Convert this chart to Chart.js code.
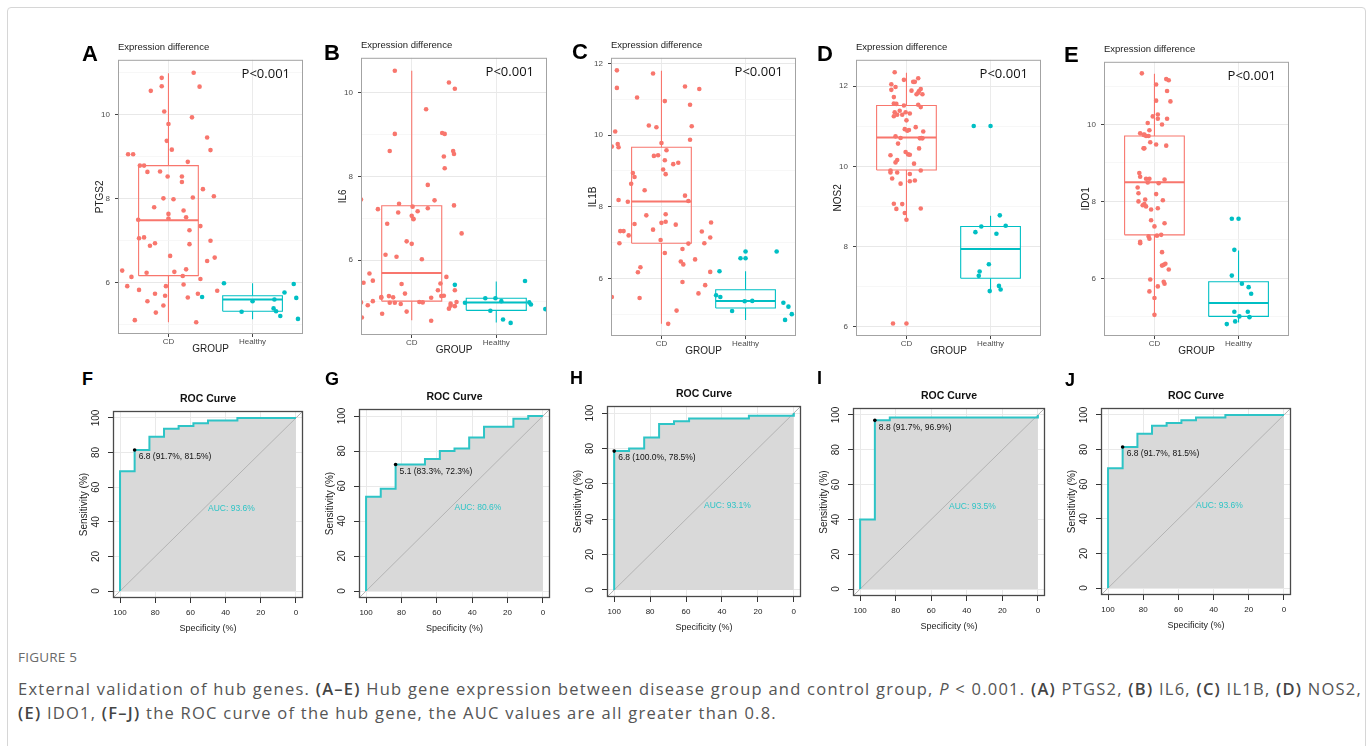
<!DOCTYPE html>
<html><head><meta charset="utf-8">
<title>Figure 5 - External validation of hub genes</title>
<style>
  body { margin: 0; width: 1372px; height: 746px; overflow: hidden; background: #fff;
         font-family: "Liberation Sans", Arial, sans-serif; }
  .card { position: absolute; left: 7px; top: 7px; width: 1357px; height: 780px;
          border: 1px solid #d6d6d6; border-radius: 4px; }
  .panel { position: absolute; }
  .letter { position: absolute; font-weight: bold; line-height: 1; transform: translateY(-50%); color: #000; }
  .title { position: absolute; line-height: 1.2; white-space: nowrap; color: #222; }
  .caption { position: absolute; left: 18px; white-space: nowrap; transform: translateY(-50%);
             font-family: "Open Sans", sans-serif; font-size: 16.5px; color: #555; }
  .caption b { font-weight: 600; color: #444; }
</style>
<script src="https://cdn.jsdelivr.net/npm/chart.js"></script>
</head>
<body>
<div class="card"></div>
<div class="caption" style="top:657px;font-size:13.5px;color:#6a6a6a;letter-spacing:0.2px">FIGURE 5</div>
<div class="caption" id="cap1" style="top:688px">External validation of hub genes. <b>(A–E)</b> Hub gene expression between disease group and control group, <i>P</i> &lt; 0.001. <b>(A)</b> PTGS2, <b>(B)</b> IL6, <b>(C)</b> IL1B, <b>(D)</b> NOS2,</div>
<div class="caption" id="cap2" style="top:712px"><b>(E)</b> IDO1, <b>(F–J)</b> the ROC curve of the hub gene, the AUC values are all greater than 0.8.</div>

<script>
// ---- data ----
const groups = ['CD', 'Healthy'];
const genes = ['PTGS2', 'IL6', 'IL1B', 'NOS2', 'IDO1'];
const pLabel = 'P<0.001';

// jittered points: x = jittered group position (CD = 1, Healthy = 2), y = expression
const ptgs2CdX = [0.92,1.30,0.92,1.37,0.79,0.95,1.28,1.00,1.46,0.98,1.04,1.50,0.52,0.58,1.23,0.66,0.71,0.75,0.90,1.16,0.99,1.16,1.41,1.54,0.94,1.06,1.29,0.83,1.18,1.00,1.00,1.21,0.64,1.38,1.25,0.65,0.71,1.50,0.84,0.78,1.25,1.02,1.55,1.46,0.45,1.21,0.74,1.07,1.17,0.56,1.38,0.51,0.97,1.18,0.65,0.84,1.58,1.35,0.96,1.23,0.75,0.94,0.85,0.60,1.33];
const ptgs2CdY = [10.87,10.99,10.67,10.66,10.56,10.07,9.93,9.77,9.45,9.37,9.16,9.15,9.05,9.05,8.87,8.78,8.78,8.63,8.64,8.52,8.52,8.39,8.22,8.05,8.00,7.98,8.02,7.79,7.71,7.63,7.52,7.55,7.49,7.34,7.24,7.05,7.07,6.99,6.93,6.87,6.91,6.63,6.59,6.51,6.28,6.31,6.23,6.25,6.15,6.13,6.08,5.91,5.91,5.95,5.82,5.73,5.80,5.73,5.68,5.64,5.55,5.45,5.28,5.10,5.05];
const ptgs2HealthyX = [1.66,1.40,1.87,2.00,2.26,2.25,2.28,2.33,2.38,2.49,2.52,2.54];
const ptgs2HealthyY = [5.98,5.65,5.30,5.55,5.59,5.38,5.31,5.20,5.76,5.96,5.63,5.13];

const il6CdX = [0.80,1.44,1.51,1.17,0.80,1.36,1.39,0.74,1.49,1.38,1.50,1.39,1.19,0.40,1.27,0.85,1.50,1.19,0.60,0.84,1.01,1.07,1.00,1.02,1.02,0.71,1.59,0.94,1.00,0.69,0.82,1.12,0.50,0.54,0.43,1.41,0.88,1.34,0.92,1.31,1.51,0.73,1.35,1.38,0.64,0.64,0.78,1.23,0.54,0.74,0.80,1.09,1.13,0.40,0.87,0.48,1.46,1.46,1.53,1.51,1.44,0.94,0.65,0.41,1.23];
const il6CdY = [10.53,10.25,10.10,9.61,9.02,9.04,9.02,8.61,8.61,8.48,8.54,8.20,7.80,7.45,7.43,7.35,7.31,7.24,7.22,7.14,7.28,7.17,7.06,6.99,6.98,6.87,6.64,6.45,6.39,6.13,6.08,6.02,5.68,5.51,5.46,5.60,5.43,5.44,5.20,5.28,5.28,5.14,5.14,5.15,5.12,5.10,5.11,5.10,5.02,4.98,4.98,5.00,4.99,4.99,4.95,4.92,4.96,4.91,5.00,4.90,4.84,4.77,4.72,4.63,4.55];
const il6HealthyX = [1.51,1.63,1.87,1.99,2.06,1.93,2.08,2.17,2.34,2.39,2.41,2.58];
const il6HealthyY = [5.41,4.98,5.09,5.09,5.02,4.79,4.58,4.50,5.50,4.99,4.94,4.83];

const il1bCdX = [0.47,0.90,0.47,1.28,1.45,0.71,1.04,1.34,0.45,0.85,0.94,1.36,0.41,0.48,0.49,1.00,1.34,1.06,0.91,0.96,1.04,1.14,1.20,1.02,0.66,0.68,1.05,0.64,0.80,0.49,0.60,1.28,1.32,1.05,0.82,1.00,1.05,0.68,1.17,1.59,0.51,0.55,0.90,1.48,0.61,1.58,0.50,0.99,1.32,1.51,1.25,1.04,1.40,1.23,1.26,0.75,0.72,1.58,1.25,1.52,1.44,0.41,0.74,1.18,1.08];
const il1bCdY = [11.81,11.72,11.32,11.36,11.29,11.05,10.95,10.85,10.10,10.27,10.22,10.25,9.68,9.75,9.66,9.78,9.87,9.58,9.42,9.44,9.30,9.19,9.23,9.04,8.94,8.83,8.91,8.64,8.46,8.19,8.14,8.31,8.16,7.79,7.76,7.55,7.58,7.52,7.50,7.56,7.32,7.32,7.36,7.31,7.20,7.14,6.98,7.07,6.97,6.98,6.82,6.71,6.53,6.47,6.39,6.31,6.17,6.18,5.90,5.81,5.58,5.48,5.45,5.10,4.73];
const il1bHealthyX = [1.69,1.65,1.70,1.84,1.94,2.00,2.00,1.99,2.08,2.37,2.45,2.51,2.55,2.47];
const il1bHealthyY = [6.20,5.53,5.48,5.09,6.56,6.75,6.56,5.36,5.37,6.75,5.32,5.21,5.00,4.84];

const nos2CdX = [0.86,1.14,0.97,1.08,1.10,0.82,0.87,1.17,1.06,1.15,1.14,1.19,1.12,0.85,0.85,0.88,0.97,1.14,1.17,0.92,0.99,0.86,1.04,0.89,0.95,0.85,1.00,1.11,0.98,1.03,1.01,1.20,0.87,0.93,1.18,1.16,1.19,0.90,0.99,1.02,1.04,0.81,0.89,0.87,1.09,1.15,0.81,0.81,0.89,1.17,1.04,0.83,1.10,1.04,0.93,0.85,0.95,1.17,0.88,0.98,1.00,0.84,1.00,0.82];
const nos2CdY = [12.35,12.20,12.16,12.11,12.11,12.05,11.98,11.93,11.89,11.88,11.84,11.80,11.80,11.73,11.57,11.56,11.52,11.54,11.48,11.39,11.35,11.35,11.32,11.29,11.29,11.25,11.15,10.98,10.93,10.91,10.89,10.87,10.75,10.71,10.71,10.70,10.70,10.57,10.36,10.30,10.29,10.28,10.16,10.10,10.07,10.45,9.90,9.85,9.85,9.90,9.81,9.70,9.65,9.63,9.57,9.07,9.06,8.95,8.94,8.84,8.67,6.08,6.08,11.91];
const nos2HealthyX = [1.80,2.00,2.11,1.89,2.18,1.82,2.07,1.98,1.87,1.86,2.10,1.99,2.12];
const nos2HealthyY = [11.01,11.01,8.78,8.50,8.52,8.36,8.32,7.56,7.38,7.27,7.02,6.89,6.93];

const ido1CdX = [0.85,1.14,1.17,1.02,1.15,1.02,1.19,1.04,0.98,1.04,1.15,1.09,0.92,0.94,0.83,0.88,0.90,0.93,0.87,0.95,1.02,1.14,0.87,0.88,0.82,0.83,0.94,1.12,1.05,0.80,0.92,0.81,1.02,0.81,0.89,0.88,0.86,0.90,1.10,1.04,0.96,0.96,1.12,1.00,1.08,0.93,1.03,0.94,0.83,0.83,1.09,1.11,1.13,1.09,1.17,0.95,1.11,1.12,1.04,0.94,1.00,1.00,0.90];
const ido1CdY = [11.33,11.18,11.15,11.04,10.87,10.62,10.60,10.26,10.21,10.15,10.15,10.00,10.04,9.85,9.77,9.74,9.70,9.70,9.73,9.54,9.48,9.45,9.38,9.38,8.74,8.64,8.59,8.57,8.47,8.36,8.49,8.21,8.19,8.00,8.05,7.93,7.90,7.87,8.03,7.82,7.79,7.51,7.43,7.35,7.13,7.09,7.11,7.03,6.95,6.91,6.68,6.35,6.38,6.33,6.23,5.97,5.91,5.86,5.79,5.66,5.49,5.05,8.59];
const ido1HealthyX = [1.92,2.00,1.95,1.92,2.04,2.12,2.15,1.95,2.11,2.01,2.13,1.96,1.86];
const ido1HealthyY = [7.55,7.55,6.74,6.07,5.86,5.77,5.60,5.13,5.13,5.01,4.99,4.88,4.81];

// box stats: [lower whisker, Q1, median, Q3, upper whisker]
const ptgs2BoxCd = [5.05, 6.16, 7.48, 8.78, 10.98];
const ptgs2BoxHealthy = [5.12, 5.31, 5.59, 5.68, 5.98];
const il6BoxCd = [4.56, 5.02, 5.69, 7.30, 10.53];
const il6BoxHealthy = [4.51, 4.80, 4.99, 5.09, 5.49];
const il1bBoxCd = [4.73, 6.98, 8.15, 9.66, 11.80];
const il1bBoxHealthy = [4.84, 5.17, 5.37, 5.68, 6.20];
const nos2BoxCd = [8.67, 9.91, 10.72, 11.52, 12.34];
const nos2BoxHealthy = [6.89, 7.21, 7.94, 8.50, 8.77];
const ido1BoxCd = [5.05, 7.13, 8.50, 9.70, 11.32];
const ido1BoxHealthy = [4.85, 5.01, 5.36, 5.91, 6.72];

// ROC curves (specificity %, sensitivity %)
const rocSpecF = [100,100,91.7,91.7,83.3,83.3,75,75,66.7,66.7,58.3,58.3,50,50,33.3,33.3,0];
const rocSensF = [0,69.2,69.2,81.5,81.5,89.2,89.2,93.8,93.8,95.4,95.4,96.9,96.9,98.5,98.5,100,100];
const rocSpecG = [100,100,91.7,91.7,83.3,83.3,66.7,66.7,58.3,58.3,50,50,41.7,41.7,33.3,33.3,16.7,16.7,8.3,8.3,0];
const rocSensG = [0,53.8,53.8,58.5,58.5,72.3,72.3,75.4,75.4,80,80,81.5,81.5,87.7,87.7,93.8,93.8,98.5,98.5,100,100];
const rocSpecH = [100,100,91.7,91.7,83.3,83.3,75,75,66.7,66.7,58.3,58.3,25,25,0,0];
const rocSensH = [0,78.5,78.5,80,80,86.2,86.2,93.8,93.8,95.4,95.4,96.9,96.9,98.5,98.5,100];
const rocSpecI = [100,100,91.7,91.7,83.3,83.3,0,0];
const rocSensI = [0,40,40,96.9,96.9,98.5,98.5,100];
const rocSpecJ = [100,100,91.7,91.7,83.3,83.3,75,75,66.7,66.7,58.3,58.3,50,50,33.3,33.3,0];
const rocSensJ = [0,69.2,69.2,81.5,81.5,89.2,89.2,93.8,93.8,95.4,95.4,96.9,96.9,98.5,98.5,100,100];
const rocCutoff = ['6.8', '5.1', '6.8', '8.8', '6.8'];
const rocCutSpec = [91.7, 83.3, 100.0, 91.7, 91.7];
const rocCutSens = [81.5, 72.3, 78.5, 96.9, 81.5];
const rocAuc = [93.6, 80.6, 93.1, 93.5, 93.6];
const rocTicks = [0, 20, 40, 60, 80, 100];

// ---- layout ----
const FONT = '"Liberation Sans", Arial, sans-serif';
const RED = '#F8766D', CYAN = '#00BFC4', ROC_COLOR = '#2EC4C6';
const BOX_HALF = 0.355;
const AX_LO = -4, AX_HI = 104;
const boxLetters = ['A', 'B', 'C', 'D', 'E'];
const rocLetters = ['F', 'G', 'H', 'I', 'J'];
// plot areas [left, top, right, bottom]
const boxAreas = [[118,56,303,334],[361,54,547,335],[611,54,796,336],[856,56,1041,336],[1104,58,1289,336]];
const boxYRange = [[4.77,11.30],[4.21,10.84],[4.39,12.16],[5.77,12.66],[4.50,11.63]];
const rocAreas = [[113,408,303,598],[359,406,550,598],[607,403,801,597],[853,405,1045,596],[1101,405,1291,595]];
const boxLetterPos = [[82,53.5],[324,53],[572,51.5],[817,53.5],[1064,54.5]];
const rocLetterPos = [[82,378.5],[325,378.5],[570,377.5],[817,378],[1065,379.5]];

const boxSeries = [
  [ptgs2CdX, ptgs2CdY, ptgs2HealthyX, ptgs2HealthyY, ptgs2BoxCd, ptgs2BoxHealthy],
  [il6CdX, il6CdY, il6HealthyX, il6HealthyY, il6BoxCd, il6BoxHealthy],
  [il1bCdX, il1bCdY, il1bHealthyX, il1bHealthyY, il1bBoxCd, il1bBoxHealthy],
  [nos2CdX, nos2CdY, nos2HealthyX, nos2HealthyY, nos2BoxCd, nos2BoxHealthy],
  [ido1CdX, ido1CdY, ido1HealthyX, ido1HealthyY, ido1BoxCd, ido1BoxHealthy]
];
const rocSeries = [[rocSpecF, rocSensF],[rocSpecG, rocSensG],[rocSpecH, rocSensH],[rocSpecI, rocSensI],[rocSpecJ, rocSensJ]];

Chart.defaults.font.family = FONT;
Chart.defaults.animation = false;

const zip = (xs, ys) => xs.map((x, i) => ({ x: x, y: ys[i] }));

function addDiv(cls, left, top, html, style) {
  const d = document.createElement('div');
  d.className = cls;
  d.style.left = left + 'px';
  d.style.top = top + 'px';
  Object.assign(d.style, style || {});
  d.innerHTML = html;
  document.body.appendChild(d);
  return d;
}

function addCanvas(left, top, w, h) {
  const d = addDiv('panel', left, top, '', { width: w + 'px', height: h + 'px' });
  const c = document.createElement('canvas');
  d.appendChild(c);
  return c;
}

// frame + annotations drawn with the chart's own scales
const panelText = {
  id: 'panelText',
  afterDatasetsDraw(chart, args, o) {
    const { ctx, chartArea: a, scales: { x, y } } = chart;
    ctx.save();
    ctx.strokeStyle = o.frameColor;
    ctx.lineWidth = o.frameWidth;
    ctx.strokeRect(a.left + 0.5, a.top + 0.5, a.right - a.left - 1, a.bottom - a.top - 1);
    if (o.pValue) {
      ctx.font = '13px "Open Sans", sans-serif';
      ctx.fillStyle = '#111';
      ctx.textAlign = 'right';
      ctx.textBaseline = 'middle';
      ctx.fillText(o.pValue, a.right - 13, a.top + 14);
    }
    if (o.roc) {
      const r = o.roc;
      ctx.font = '8.5px ' + FONT;
      ctx.fillStyle = '#111';
      ctx.textAlign = 'left';
      ctx.textBaseline = 'middle';
      ctx.fillText(r.cutLabel, x.getPixelForValue(r.spec) + 4, y.getPixelForValue(r.sens) + 7);
      ctx.fillStyle = ROC_COLOR;
      ctx.textBaseline = 'top';
      ctx.fillText(r.aucLabel, x.getPixelForValue(50), y.getPixelForValue(50));
      // y tick labels, rotated like base R
      ctx.font = '10px ' + FONT;
      ctx.fillStyle = '#222';
      ctx.textAlign = 'center';
      ctx.textBaseline = 'middle';
      y.ticks.forEach(t => {
        ctx.save();
        ctx.translate(a.left - 16.5, y.getPixelForValue(t.value));
        ctx.rotate(-Math.PI / 2);
        ctx.fillText(String(t.value), 0, 0);
        ctx.restore();
      });
    }
    ctx.restore();
  }
};

function boxLines(stats, pos, color) {
  const [lo, q1, med, q3, hi] = stats;
  const l = pos - BOX_HALF, r = pos + BOX_HALF;
  const line = (pts, w) => ({ data: pts, borderColor: color, borderWidth: w, pointRadius: 0,
                              fill: false, tension: 0, order: 2 });
  return [
    line([{x:l,y:q1},{x:r,y:q1},{x:r,y:q3},{x:l,y:q3},{x:l,y:q1}], 1.1),
    line([{x:l,y:med},{x:r,y:med}], 2),
    line([{x:pos,y:q3},{x:pos,y:hi}], 1.1),
    line([{x:pos,y:lo},{x:pos,y:q1}], 1.1)
  ];
}

function dots(pts, color) {
  return { data: pts, showLine: false, pointRadius: 2.3, pointBorderWidth: 0,
           pointBackgroundColor: color, order: 1 };
}

function makeBoxChart(i) {
  const [L, T, R, B] = boxAreas[i];
  const [cdX, cdY, hX, hY, boxCd, boxH] = boxSeries[i];
  const canvas = addCanvas(L - 24, T - 6, R - L + 30, B - T + 27);
  addDiv('letter', boxLetterPos[i][0], boxLetterPos[i][1], boxLetters[i], { fontSize: '22px' });
  addDiv('title', L, T - 9.5, 'Expression difference', { fontSize: '9.5px', transform: 'translateY(-50%)' });
  new Chart(canvas, {
    type: 'line',
    data: { datasets: [
      ...boxLines(boxCd, 1, RED), ...boxLines(boxH, 2, CYAN),
      dots(zip(cdX, cdY), RED), dots(zip(hX, hY), CYAN)
    ] },
    options: {
      responsive: true, maintainAspectRatio: false,
      layout: { padding: { top: 6, right: 6, left: 0, bottom: 0 } },
      plugins: { legend: { display: false }, tooltip: { enabled: false },
                 panelText: { frameColor: '#a3a3a3', frameWidth: 1, pValue: pLabel } },
      scales: {
        x: {
          type: 'linear', min: 0.4, max: 2.6,
          afterBuildTicks: s => { s.ticks = groups.map((g, k) => ({ value: k + 1 })); },
          afterFit: s => { s.height = 21; },
          ticks: { callback: v => groups[v - 1], font: { size: 8 }, color: '#4d4d4d',
                   padding: 0, maxRotation: 0, autoSkip: false },
          grid: { color: '#ebebeb', lineWidth: 1, tickLength: 3, tickColor: '#444' },
          border: { display: false },
          title: { display: true, text: 'GROUP', font: { size: 10 }, color: '#222', padding: 0 }
        },
        y: {
          type: 'linear', min: boxYRange[i][0], max: boxYRange[i][1],
          afterBuildTicks: s => {
            const t = [];
            for (let v = Math.ceil(s.min); v <= Math.floor(s.max); v++) t.push({ value: v });
            s.ticks = t;
          },
          afterFit: s => { s.width = 24; },
          ticks: { callback: v => (v % 2 === 0 ? String(v) : ''), font: { size: 8 }, color: '#4d4d4d',
                   padding: 5, autoSkip: false },
          grid: {
            color: c => (c.tick && c.tick.value % 2 === 0 ? '#e8e8e8' : '#f3f3f3'),
            lineWidth: c => (c.tick && c.tick.value % 2 === 0 ? 1 : 0.7),
            tickLength: 3,
            tickColor: c => (c.tick && c.tick.value % 2 === 0 ? '#444' : 'rgba(0,0,0,0)')
          },
          border: { display: false },
          title: { display: true, text: genes[i], font: { size: 10 }, color: '#222', padding: 0 }
        }
      }
    },
    plugins: [panelText]
  });
}

function makeRocChart(i) {
  const [L, T, R, B] = rocAreas[i];
  const pts = zip(rocSeries[i][0], rocSeries[i][1]);
  const canvas = addCanvas(L - 35, T - 6, R - L + 41, B - T + 42);
  addDiv('letter', rocLetterPos[i][0], rocLetterPos[i][1], rocLetters[i], { fontSize: '18px' });
  addDiv('title', (L + R) / 2, T - 10.5, 'ROC Curve',
         { fontSize: '10.5px', fontWeight: 'bold', color: '#111', transform: 'translate(-50%,-50%)' });
  const axisTicks = s => { s.ticks = rocTicks.map(v => ({ value: v })); };
  new Chart(canvas, {
    type: 'line',
    data: { datasets: [
      { data: pts, fill: 'origin', backgroundColor: '#d9d9d9', borderWidth: 0, pointRadius: 0, order: 4 },
      { data: [{ x: AX_HI, y: 100 - AX_HI }, { x: AX_LO, y: 100 - AX_LO }],
        borderColor: '#b3b3b3', borderWidth: 1, pointRadius: 0, fill: false, order: 3 },
      { data: pts, borderColor: ROC_COLOR, borderWidth: 2, pointRadius: 0, fill: false, tension: 0, order: 2 },
      { data: [{ x: rocCutSpec[i], y: rocCutSens[i] }], showLine: false, pointRadius: 1.8,
        pointBorderWidth: 0, pointBackgroundColor: '#000', order: 1 }
    ] },
    options: {
      responsive: true, maintainAspectRatio: false,
      layout: { padding: { top: 6, right: 6, left: 0, bottom: 0 } },
      plugins: {
        legend: { display: false }, tooltip: { enabled: false },
        panelText: {
          frameColor: '#4a4a4a', frameWidth: 1.3,
          roc: {
            spec: rocCutSpec[i], sens: rocCutSens[i],
            cutLabel: rocCutoff[i] + ' (' + rocCutSpec[i].toFixed(1) + '%, ' + rocCutSens[i].toFixed(1) + '%)',
            aucLabel: 'AUC: ' + rocAuc[i].toFixed(1) + '%'
          }
        }
      },
      scales: {
        x: {
          type: 'linear', reverse: true, min: AX_LO, max: AX_HI,
          afterBuildTicks: axisTicks,
          afterFit: s => { s.height = 36; },
          ticks: { font: { size: 8 }, color: '#222', padding: 4.5, maxRotation: 0, autoSkip: false },
          grid: { color: '#e9e9e9', borderDash: [2, 2], tickBorderDash: [], tickLength: 5, tickColor: '#333' },
          border: { display: false },
          title: { display: true, text: 'Specificity (%)', font: { size: 9 }, color: '#222', padding: 0 }
        },
        y: {
          type: 'linear', min: AX_LO, max: AX_HI,
          afterBuildTicks: axisTicks,
          afterFit: s => { s.width = 35; },
          ticks: { font: { size: 10 }, color: 'rgba(0,0,0,0)', autoSkip: false },
          grid: { color: '#e9e9e9', borderDash: [2, 2], tickBorderDash: [], tickLength: 5, tickColor: '#333' },
          border: { display: false },
          title: { display: true, text: 'Sensitivity (%)', font: { size: 10 }, color: '#222', padding: 0 }
        }
      }
    },
    plugins: [panelText]
  });
}

for (let i = 0; i < 5; i++) { makeBoxChart(i); makeRocChart(i); }

// stretch the caption lines to the width they take in the figure
const cap1 = document.getElementById('cap1'), cap2 = document.getElementById('cap2');
const w1 = cap1.getBoundingClientRect().width;
const spacing = (1344 - w1) / cap1.textContent.length;
cap1.style.letterSpacing = spacing + 'px';
cap2.style.letterSpacing = spacing + 'px';
</script>
</body></html>
